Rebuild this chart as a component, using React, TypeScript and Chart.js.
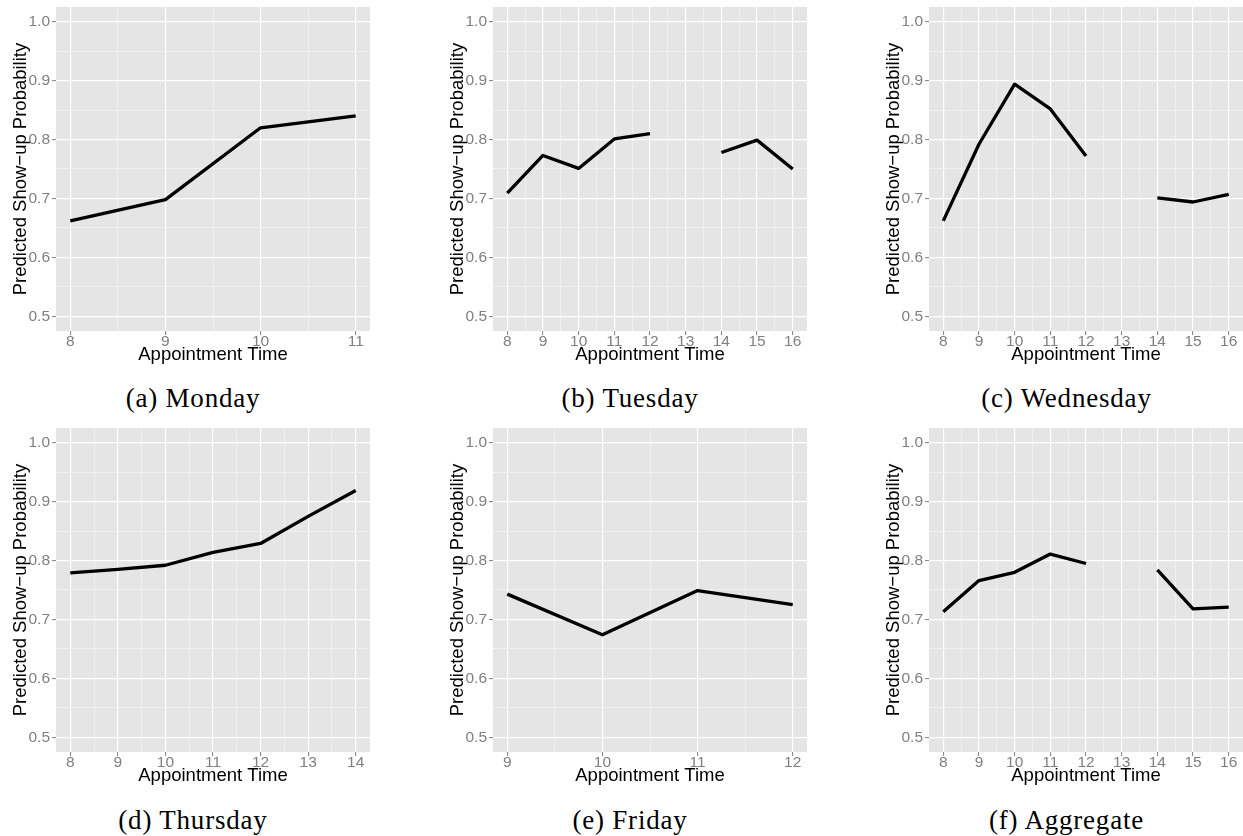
import React, { useEffect, useRef } from "react";
import { Chart, registerables } from "chart.js";

Chart.register(...registerables);

// ---------------- data ----------------
const mondayTimes = [8, 9, 10, 11];
const mondayProb = [0.662, 0.698, 0.82, 0.84];

const tuesdayTimes = [8, 9, 10, 11, 12, 13, 14, 15, 16];
const tuesdayProb = [0.709, 0.773, 0.751, 0.801, 0.81, null, 0.778, 0.799, 0.75];

const wednesdayTimes = [8, 9, 10, 11, 12, 13, 14, 15, 16];
const wednesdayProb = [0.662, 0.792, 0.894, 0.852, 0.772, null, 0.701, 0.694, 0.707];

const thursdayTimes = [8, 9, 10, 11, 12, 13, 14];
const thursdayProb = [0.779, 0.785, 0.792, 0.814, 0.829, 0.875, 0.919];

const fridayTimes = [9, 10, 11, 12];
const fridayProb = [0.743, 0.674, 0.749, 0.725];

const aggregateTimes = [8, 9, 10, 11, 12, 13, 14, 15, 16];
const aggregateProb = [0.713, 0.766, 0.78, 0.811, 0.795, null, 0.784, 0.718, 0.721];

const yMajorTicks = [0.5, 0.6, 0.7, 0.8, 0.9, 1.0];
const yMinorTicks = [0.55, 0.65, 0.75, 0.85, 0.95];
const yLimits = [0.5, 1.0];

const xTitle = "Appointment Time";
const yTitle = "Predicted Show\u2212up Probability";

const captions = ["(a) Monday", "(b) Tuesday", "(c) Wednesday", "(d) Thursday", "(e) Friday", "(f) Aggregate"];

// ---------------- layout ----------------
const CANVAS_W = 360;
const CANVAS_H = 366;
const Y_AXIS_W = 46;
const X_AXIS_H = 35;
const colLeft = [10, 447, 883];
const rowTop = [0, 421];
const captionCenter = [193, 630, 1066.5];
const captionBaseline = [408, 830];

const panels = [
  { times: mondayTimes, probs: mondayProb },
  { times: tuesdayTimes, probs: tuesdayProb },
  { times: wednesdayTimes, probs: wednesdayProb },
  { times: thursdayTimes, probs: thursdayProb },
  { times: fridayTimes, probs: fridayProb },
  { times: aggregateTimes, probs: aggregateProb },
];

const SANS = "'Liberation Sans', Arial, Helvetica, sans-serif";
const isTenth = (v: number) => Math.abs(v * 10 - Math.round(v * 10)) < 1e-6;
const isInt = (v: number) => Math.abs(v - Math.round(v)) < 1e-6;

const bgPlugin = {
  id: "panelBg",
  beforeDraw(chart: any) {
    const { ctx, chartArea } = chart;
    ctx.save();
    ctx.fillStyle = "#E5E5E5";
    ctx.fillRect(chartArea.left, chartArea.top, chartArea.right - chartArea.left, chartArea.bottom - chartArea.top);
    ctx.restore();
  },
};

function zeroPad(s: any) {
  s.paddingLeft = 0;
  s.paddingRight = 0;
  s.paddingTop = 0;
  s.paddingBottom = 0;
}

function Panel({ times, probs, left, top }: { times: number[]; probs: (number | null)[]; left: number; top: number }) {
  const ref = useRef<HTMLCanvasElement>(null);
  useEffect(() => {
    if (!ref.current) return;
    const tMin = Math.min(...times);
    const tMax = Math.max(...times);
    const xPad = (tMax - tMin) * 0.05;
    const yPad = (yLimits[1] - yLimits[0]) * 0.05;
    const xTicks: number[] = [];
    for (let v = tMin; v <= tMax + 1e-9; v += 0.5) xTicks.push(v);

    const chart = new Chart(ref.current, {
      type: "line",
      data: {
        datasets: [
          {
            data: times.map((t, i) => ({ x: t, y: probs[i] })) as any,
            borderColor: "#000000",
            borderWidth: 3.3,
            pointRadius: 0,
            pointHoverRadius: 0,
            tension: 0,
            spanGaps: false,
            fill: false,
            borderCapStyle: "butt",
            borderJoinStyle: "round",
          },
        ],
      },
      options: {
        animation: false,
        responsive: false,
        devicePixelRatio: 1,
        events: [],
        layout: { padding: { top: 7, left: 0, right: 0, bottom: 0 } },
        plugins: { legend: { display: false }, tooltip: { enabled: false }, title: { display: false } },
        scales: {
          x: {
            type: "linear",
            position: "bottom",
            min: tMin - xPad,
            max: tMax + xPad,
            afterBuildTicks: (s: any) => {
              s.ticks = xTicks.map((v) => ({ value: v }));
            },
            afterFit: (s: any) => {
              s.height = X_AXIS_H;
              zeroPad(s);
            },
            ticks: {
              autoSkip: false,
              maxRotation: 0,
              minRotation: 0,
              color: "#7F7F7F",
              padding: -1,
              font: { family: SANS, size: 15.5, lineHeight: 1 },
              callback: (v: any) => (isInt(Number(v)) ? String(Math.round(Number(v))) : ""),
            },
            grid: {
              drawTicks: true,
              tickLength: 4,
              tickWidth: 1,
              color: (c: any) => (c.tick && isInt(c.tick.value) ? "#FFFFFF" : "#F2F2F2"),
              lineWidth: (c: any) => (c.tick && isInt(c.tick.value) ? 1.2 : 0.8),
              tickColor: (c: any) => (c.tick && isInt(c.tick.value) ? "#7F7F7F" : "rgba(0,0,0,0)"),
            },
            border: { display: false },
            title: {
              display: true,
              text: xTitle,
              color: "#000000",
              font: { family: SANS, size: 18.5, lineHeight: 1.2 },
              padding: { top: 0, bottom: 0 },
            },
          },
          y: {
            type: "linear",
            position: "left",
            min: yLimits[0] - yPad,
            max: yLimits[1] + yPad,
            afterBuildTicks: (s: any) => {
              s.ticks = [...yMajorTicks, ...yMinorTicks].sort((a, b) => a - b).map((v) => ({ value: v }));
            },
            afterFit: (s: any) => {
              s.width = Y_AXIS_W;
              zeroPad(s);
            },
            ticks: {
              autoSkip: false,
              color: "#7F7F7F",
              padding: 2,
              font: { family: SANS, size: 15.5, lineHeight: 1.2 },
              callback: (v: any) => (isTenth(Number(v)) ? Number(v).toFixed(1) : ""),
            },
            grid: {
              drawTicks: true,
              tickLength: 4,
              tickWidth: 1,
              color: (c: any) => (c.tick && isTenth(c.tick.value) ? "#FFFFFF" : "#F2F2F2"),
              lineWidth: (c: any) => (c.tick && isTenth(c.tick.value) ? 1.2 : 0.8),
              tickColor: (c: any) => (c.tick && isTenth(c.tick.value) ? "#7F7F7F" : "rgba(0,0,0,0)"),
            },
            border: { display: false },
            title: {
              display: true,
              text: yTitle,
              color: "#000000",
              font: { family: SANS, size: 18.5, lineHeight: 1.2 },
              padding: { top: 0.3, bottom: 0 },
            },
          },
        },
      } as any,
      plugins: [bgPlugin],
    });
    return () => chart.destroy();
  }, [times, probs]);

  return (
    <canvas
      ref={ref}
      width={CANVAS_W}
      height={CANVAS_H}
      style={{ position: "absolute", left, top, width: CANVAS_W, height: CANVAS_H }}
    />
  );
}

export default function App() {
  return (
    <div
      style={{
        position: "fixed",
        left: 0,
        top: 0,
        width: 1243,
        height: 836,
        overflow: "hidden",
        background: "#FFFFFF",
      }}
    >
      {panels.map((p, i) => (
        <Panel key={i} times={p.times} probs={p.probs} left={colLeft[i % 3]} top={rowTop[Math.floor(i / 3)]} />
      ))}
      {captions.map((c, i) => (
        <div
          key={"cap" + i}
          style={{
            position: "absolute",
            left: captionCenter[i % 3] - 200,
            width: 400,
            top: captionBaseline[Math.floor(i / 3)] - 22.6,
            textAlign: "center",
            fontFamily: "'Liberation Serif', 'Times New Roman', serif",
            fontSize: 27,
            lineHeight: "27px",
            letterSpacing: "0.8px",
            color: "#000000",
            whiteSpace: "nowrap",
          }}
        >
          {c}
        </div>
      ))}
    </div>
  );
}
